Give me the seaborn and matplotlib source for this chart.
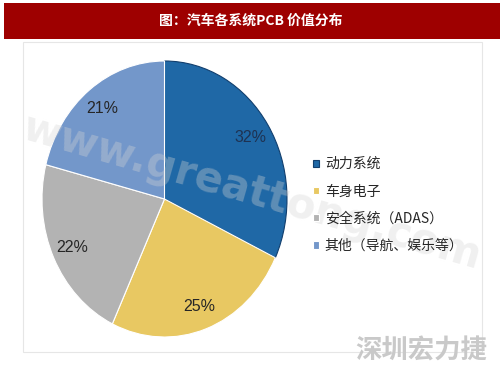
import matplotlib
matplotlib.use("Agg")
import matplotlib.pyplot as plt
import seaborn as sns
from matplotlib.patches import Rectangle

sns.set_style("white")
plt.rcParams['font.family'] = ['Noto Sans CJK SC', 'DejaVu Sans']

title = "图：汽车各系统PCB 价值分布"
categories = ["动力系统", "车身电子", "安全系统（ADAS）", "其他（导航、娱乐等）"]
values = [32, 25, 22, 21]
colors = ["#1f68a6", "#e8c862", "#b3b3b3", "#7397ca"]
watermark = "www.greattong.com"
logo = "深圳宏力捷"

W, H = 503, 378
fig = plt.figure(figsize=(W / 100, H / 100), dpi=100)
fig.patch.set_facecolor("white")

# faint frame
fig.add_artist(Rectangle((23 / W, 1 - 352 / H), (482 - 23) / W, (352 - 42) / H,
                         transform=fig.transFigure, fill=False,
                         edgecolor="#e6e6e6", lw=0.8))

# title bar
fig.add_artist(Rectangle((4 / W, 1 - 39 / H), (500 - 4) / W, (39 - 3) / H,
                         transform=fig.transFigure, facecolor="#9e0000",
                         edgecolor="none"))
fig.text(251 / W, 1 - 21 / H, title, color="white", fontsize=10,
         fontweight="bold", ha="center", va="center")

# pie axes
cx, cy, rx, ry = 164.5, 199, 122.5, 138
ax = fig.add_axes([(cx - rx) / W, 1 - (cy + ry) / H, 2 * rx / W, 2 * ry / H])
wedges, texts, autotexts = ax.pie(
    values, colors=colors, startangle=90, counterclock=False,
    autopct="%d%%", pctdistance=0.83,
    wedgeprops=dict(edgecolor="white", linewidth=0.8),
    textprops=dict(fontsize=11.5, family=["Liberation Sans", "DejaVu Sans"]))
wedges[0].set_edgecolor("#123f6e")
autotexts[0].set_color("#1e3252")
ax.set_xlim(-1, 1)
ax.set_ylim(-1, 1)
ax.set_aspect("auto")
ax.set_position([(cx - rx) / W, 1 - (cy + ry) / H, 2 * rx / W, 2 * ry / H])

fig.legend(wedges, categories, loc="center left",
           bbox_to_anchor=(306 / W, 1 - 205 / H), frameon=False,
           fontsize=10, handlelength=0.45, handleheight=0.45,
           handletextpad=0.4, labelspacing=0.95, borderpad=0)

# watermark
fig.text(252 / W, 1 - 192 / H, watermark, fontsize=30, fontweight="bold",
         color="#d4d4d4", alpha=0.35, rotation=-16, ha="center", va="center",
         family=["DejaVu Sans"])

# logo
fig.text(421 / W, 1 - 351 / H, logo, fontsize=19, fontweight="bold",
         color="#c9c9c9", ha="center", va="center")

fig.savefig("out.png", dpi=100, facecolor="white")
